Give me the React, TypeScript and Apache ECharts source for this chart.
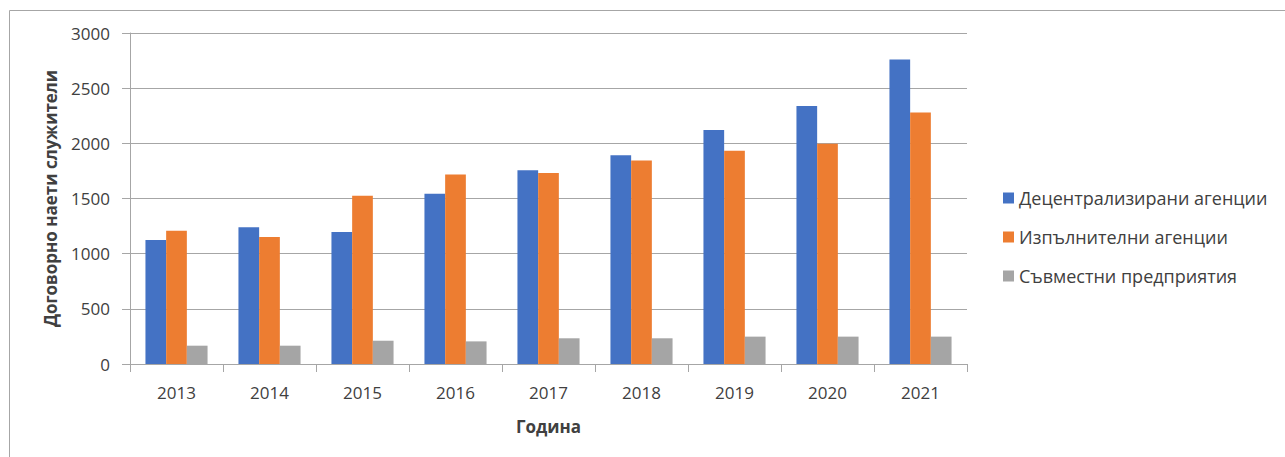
import React, { useEffect, useRef } from "react";
import * as echarts from "echarts";

const years = ["2013", "2014", "2015", "2016", "2017", "2018", "2019", "2020", "2021"];
const decentralized = [1124, 1239, 1197, 1542, 1757, 1891, 2121, 2339, 2760];
const executive = [1208, 1151, 1526, 1718, 1730, 1845, 1933, 1997, 2279];
const joint = [166, 166, 211, 205, 233, 233, 248, 248, 248];
const seriesNames = ["Децентрализирани агенции", "Изпълнителни агенции", "Съвместни предприятия"];
const colors = ["#4472C4", "#ED7D31", "#A5A5A5"];

const FONT = "'Open Sans', 'Noto Sans', sans-serif";
const FS = 17;

export default function App() {
  const ref = useRef<HTMLDivElement>(null);
  useEffect(() => {
    if (!ref.current) return;
    const chart = echarts.init(ref.current, undefined, { renderer: "svg" });
    const mk = (name: string, data: number[], color: string) => ({
      name,
      type: "bar",
      data,
      barWidth: 20.7,
      barGap: "0%",
      itemStyle: { color },
    });
    chart.setOption({
      animation: false,
      textStyle: { fontFamily: FONT },
      graphic: [
        {
          type: "rect",
          shape: { x: 9.5, y: 10.5, width: 1400, height: 600 },
          style: { fill: "none", stroke: "#a6a6a6", lineWidth: 1 },
          silent: true,
        },
      ],
      grid: { left: 130, right: 1285 - 967, top: 33, bottom: 457 - 364, containLabel: false },
      legend: {
        orient: "vertical",
        left: 998,
        top: 184,
        itemWidth: 11,
        itemHeight: 11,
        itemGap: 21,
        icon: "rect",
        textStyle: { fontSize: 18, color: "#404040", fontFamily: FONT },
        data: seriesNames,
      },
      xAxis: {
        type: "category",
        data: years,
        name: "Година",
        nameLocation: "middle",
        nameGap: 54,
        nameTextStyle: { fontSize: FS, fontWeight: "bold", color: "#404040", fontFamily: FONT },
        axisLine: { lineStyle: { color: "#a6a6a6", width: 1 } },
        axisTick: { show: true, length: 8, alignWithLabel: false, lineStyle: { color: "#a6a6a6" } },
        axisLabel: { fontSize: FS, color: "#404040", margin: 20, fontFamily: FONT },
      },
      yAxis: {
        type: "value",
        min: 0,
        max: 3000,
        interval: 500,
        name: "Договорно наети служители",
        nameLocation: "middle",
        nameRotate: 90,
        nameGap: 71,
        nameTextStyle: { fontSize: FS, fontWeight: "bold", color: "#404040", fontFamily: FONT },
        axisLine: { show: true, lineStyle: { color: "#a6a6a6", width: 1 } },
        axisTick: { show: true, length: 8, lineStyle: { color: "#a6a6a6" } },
        axisLabel: {
          fontSize: FS,
          color: "#404040",
          margin: 20,
          fontFamily: FONT,
          formatter: (v: number) => String(v),
        },
        splitLine: { lineStyle: { color: "#a6a6a6", width: 1 } },
      },
      series: [
        mk(seriesNames[0], decentralized, colors[0]),
        mk(seriesNames[1], executive, colors[1]),
        mk(seriesNames[2], joint, colors[2]),
      ],
    });
    return () => chart.dispose();
  }, []);
  return (
    <div
      ref={ref}
      style={{ position: "fixed", left: 0, top: 0, width: 1285, height: 457, background: "#fff" }}
    />
  );
}
